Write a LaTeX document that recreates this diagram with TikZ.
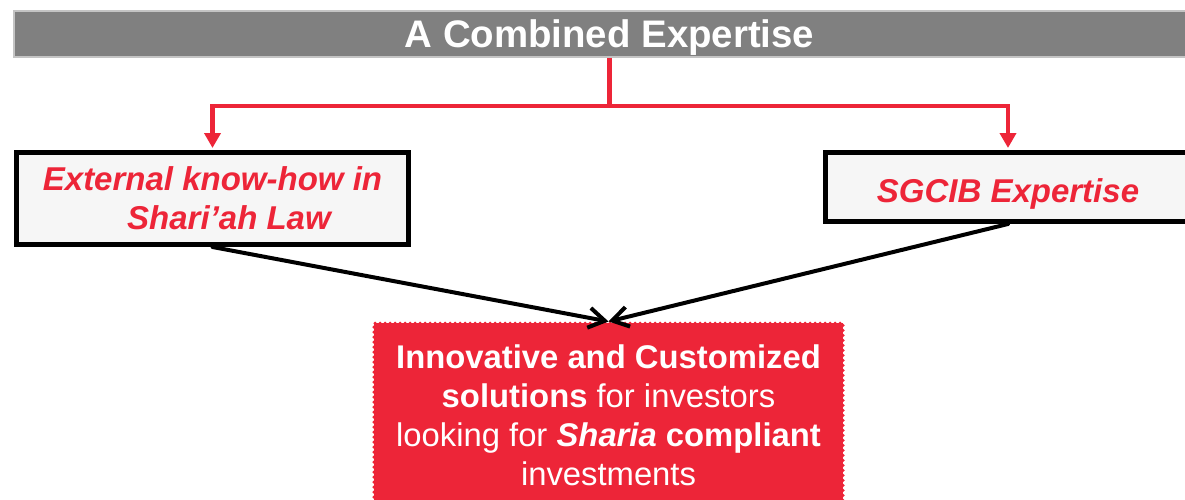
\documentclass[tikz,border=0pt]{standalone}
\usepackage{fontspec}
\setmainfont{Liberation Sans}
\usetikzlibrary{arrows.meta}
\definecolor{sgred}{RGB}{237,37,56}
\definecolor{bannergray}{RGB}{128,128,128}
\definecolor{bannerrim}{RGB}{196,196,196}
\definecolor{boxfill}{RGB}{246,246,246}
\begin{document}
\begin{tikzpicture}[x=1pt,y=-1pt,
  banner/.style={draw=bannerrim, line width=2pt, fill=bannergray, text=white,
    font=\fontsize{38.4}{44}\selectfont\bfseries, minimum width=1191pt,
    minimum height=46pt, inner sep=0pt, text height=27pt, text depth=0pt},
  sourcebox/.style={draw=black, line width=5pt, fill=boxfill, text=sgred,
    font=\fontsize{33}{39}\selectfont\bfseries\itshape, inner sep=0pt, align=center},
  resultbox/.style={draw=sgred, fill=sgred, line width=3.5pt,
    dash pattern=on 0pt off 5pt, line cap=round, text=white,
    font=\fontsize{32.8}{39}\selectfont, align=center, minimum width=469pt,
    inner xsep=0pt, inner ysep=21pt},
  feed/.style={draw=sgred, line width=4.5pt, -{Triangle[length=15pt,width=16pt]},
    shorten >=2pt},
  merge/.style={draw=black, line width=4pt, -{Straight Barb[length=16pt,width=20pt]},
    line cap=round},
]
\useasboundingbox (0,0) rectangle (1185,500);
\clip (0,0) rectangle (1185,500);

% heading banner
\node[banner] (title) at (609.5,34) {A Combined Expertise};

% the two sources of expertise
\node[sourcebox, minimum width=392pt, minimum height=92pt] (know) at (212.5,198.5)
  {External know-how in\\\hspace*{33pt}Shari’ah Law};
\node[sourcebox, minimum width=365pt, minimum height=69pt,
  text height=30pt, text depth=0pt] (sgcib) at (1008,187) {SGCIB Expertise};

% combined result
\node[resultbox, anchor=north] (result) at (608.5,321.5)
  {{\bfseries Innovative and Customized}\\
   \textbf{solutions} for investors\hspace*{5pt}\\
   looking for \textbf{\textit{Sharia}} \textbf{compliant}\\
   investments};

% split from the banner into both sources
\coordinate (split) at (609.5,106);
\draw[feed] (title.south) -- (split) -| (know.north);
\draw[feed] (split) -| (sgcib.north);

% both sources merge into the result
\draw[merge] (know.south) -- (result.north);
\draw[merge] (sgcib.south) -- (result.north);
\end{tikzpicture}
\end{document}
